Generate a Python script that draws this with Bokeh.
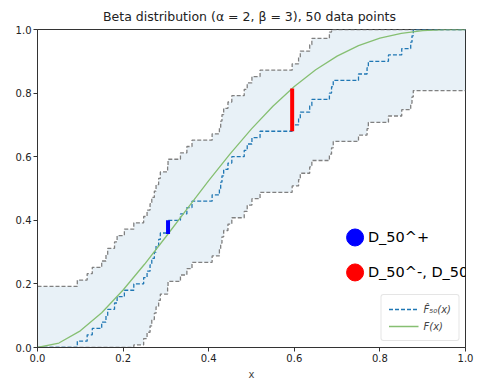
import numpy as np
from bokeh.plotting import figure
from bokeh.models import Range1d, Legend, LegendItem, FixedTicker, Label
from bokeh.embed import file_html
from bokeh.resources import INLINE

# sorted sample (50 data points) read from the empirical CDF steps
samples = [0.093, 0.116, 0.128, 0.150, 0.160, 0.164, 0.180, 0.186, 0.203, 0.225,
           0.248, 0.256, 0.263, 0.267, 0.273, 0.277, 0.283, 0.287, 0.304, 0.305,
           0.334, 0.349, 0.361, 0.408, 0.425, 0.428, 0.431, 0.435, 0.445, 0.454,
           0.483, 0.490, 0.501, 0.520, 0.595, 0.610, 0.614, 0.636, 0.641, 0.682,
           0.687, 0.691, 0.750, 0.770, 0.773, 0.820, 0.851, 0.872, 0.875, 0.878]
band_eps = 0.192

# theoretical Beta(2,3) CDF
cdf_x = [0.00, 0.05, 0.10, 0.15, 0.20, 0.25, 0.30, 0.35, 0.40, 0.45, 0.50,
         0.55, 0.60, 0.65, 0.70, 0.75, 0.80, 0.85, 0.90, 0.95, 1.00]
cdf_y = [0.0, 0.0140, 0.0523, 0.1095, 0.1808, 0.2617, 0.3483, 0.4370, 0.5248,
         0.6090, 0.6875, 0.7585, 0.8208, 0.8735, 0.9163, 0.9492, 0.9728, 0.9880,
         0.9963, 0.9995, 1.0]

tick_vals = [0.0, 0.2, 0.4, 0.6, 0.8, 1.0]
tick_labels = ["0.0", "0.2", "0.4", "0.6", "0.8", "1.0"]

FONT = "DejaVu Sans"

n = len(samples)
xs = np.array([0.0] + samples + [1.0])
ecdf = np.concatenate([[0.0], np.arange(1, n + 1) / n, [1.0]])
upper = np.minimum(ecdf + band_eps, 1.0)
lower = np.maximum(ecdf - band_eps, 0.0)

smp = np.array(samples)
F_at = np.interp(smp, cdf_x, cdf_y)
ecdf_hi = np.arange(1, n + 1) / n
ecdf_lo = np.arange(0, n) / n
i_plus = int(np.argmax(ecdf_hi - F_at))
i_minus = int(np.argmax(F_at - ecdf_lo))

p = figure(frame_width=428, frame_height=318, output_backend="svg",
           toolbar_location=None, x_range=Range1d(0, 1), y_range=Range1d(0, 1),
           min_border_left=37, min_border_right=12, min_border_top=29,
           min_border_bottom=10)
p.background_fill_color = "white"
p.border_fill_color = "white"
p.grid.visible = False
p.outline_line_color = "#333333"
p.outline_line_width = 1

p.title.text = "Beta distribution (\u03b1 = 2,  \u03b2 = 3), 50 data points"
p.title.align = "center"
p.title.text_font = FONT
p.title.text_font_size = "12.5px"
p.title.text_font_style = "normal"
p.title.text_color = "#222222"
p.title.standoff = 12

for ax in (p.xaxis[0], p.yaxis[0]):
    ax.ticker = FixedTicker(ticks=tick_vals)
    ax.major_label_overrides = {v: l for v, l in zip(tick_vals, tick_labels)}
    ax.major_label_text_font = FONT
    ax.major_label_text_font_size = "10px"
    ax.major_label_text_color = "#222222"
    ax.axis_line_color = "#333333"
    ax.major_tick_line_color = "#333333"
    ax.major_tick_out = 4
    ax.major_tick_in = 0
    ax.minor_tick_line_color = None
    ax.major_label_standoff = 2
p.xaxis.axis_label = "x"
p.xaxis.axis_label_text_font = FONT
p.xaxis.axis_label_text_font_size = "10px"
p.xaxis.axis_label_text_font_style = "normal"
p.xaxis.axis_label_standoff = 4

p.varea_step(x=xs, y1=lower, y2=upper, step_mode="after",
             fill_color="#1f77b4", fill_alpha=0.1)
p.step(xs, upper, mode="after", line_color="gray", line_dash="4 2", line_width=1.3)
p.step(xs, lower, mode="after", line_color="gray", line_dash="4 2", line_width=1.3)
r_ecdf = p.step(xs, ecdf, mode="after", line_color="#1f77b4", line_dash="4 2",
                line_width=1.3)
r_F = p.line(cdf_x, cdf_y, line_color="#86bf72", line_width=1.3)

p.segment(x0=[smp[i_plus]], y0=[F_at[i_plus]], x1=[smp[i_plus]], y1=[ecdf_hi[i_plus]],
          line_color="blue", line_width=4)
p.segment(x0=[smp[i_minus]], y0=[F_at[i_minus]], x1=[smp[i_minus]], y1=[ecdf_lo[i_minus]],
          line_color="red", line_width=4)

p.scatter([0.742], [0.346], size=17, color="blue")
p.scatter([0.742], [0.236], size=17, color="red")
for yy, txt in ((0.346, "D_50^+"), (0.236, "D_50^-, D_50")):
    p.add_layout(Label(x=0.772, y=yy, text=txt, text_baseline="middle",
                       text_font=FONT, text_font_size="14.5px", text_color="black"))

legend = Legend(items=[LegendItem(label="F\u0302\u2085\u2080(x)", renderers=[r_ecdf]),
                       LegendItem(label="F(x)", renderers=[r_F])],
                location="bottom_right")
legend.label_text_font = FONT
legend.label_text_font_size = "10px"
legend.label_text_font_style = "italic"
legend.glyph_width = 30
legend.glyph_height = 14
legend.label_height = 14
legend.spacing = 3
legend.padding = 7
legend.margin = 6
legend.border_line_color = "#cccccc"
legend.border_radius = 3
legend.background_fill_alpha = 0.8
p.add_layout(legend)

open("out.html", "w").write(file_html(p, INLINE))
